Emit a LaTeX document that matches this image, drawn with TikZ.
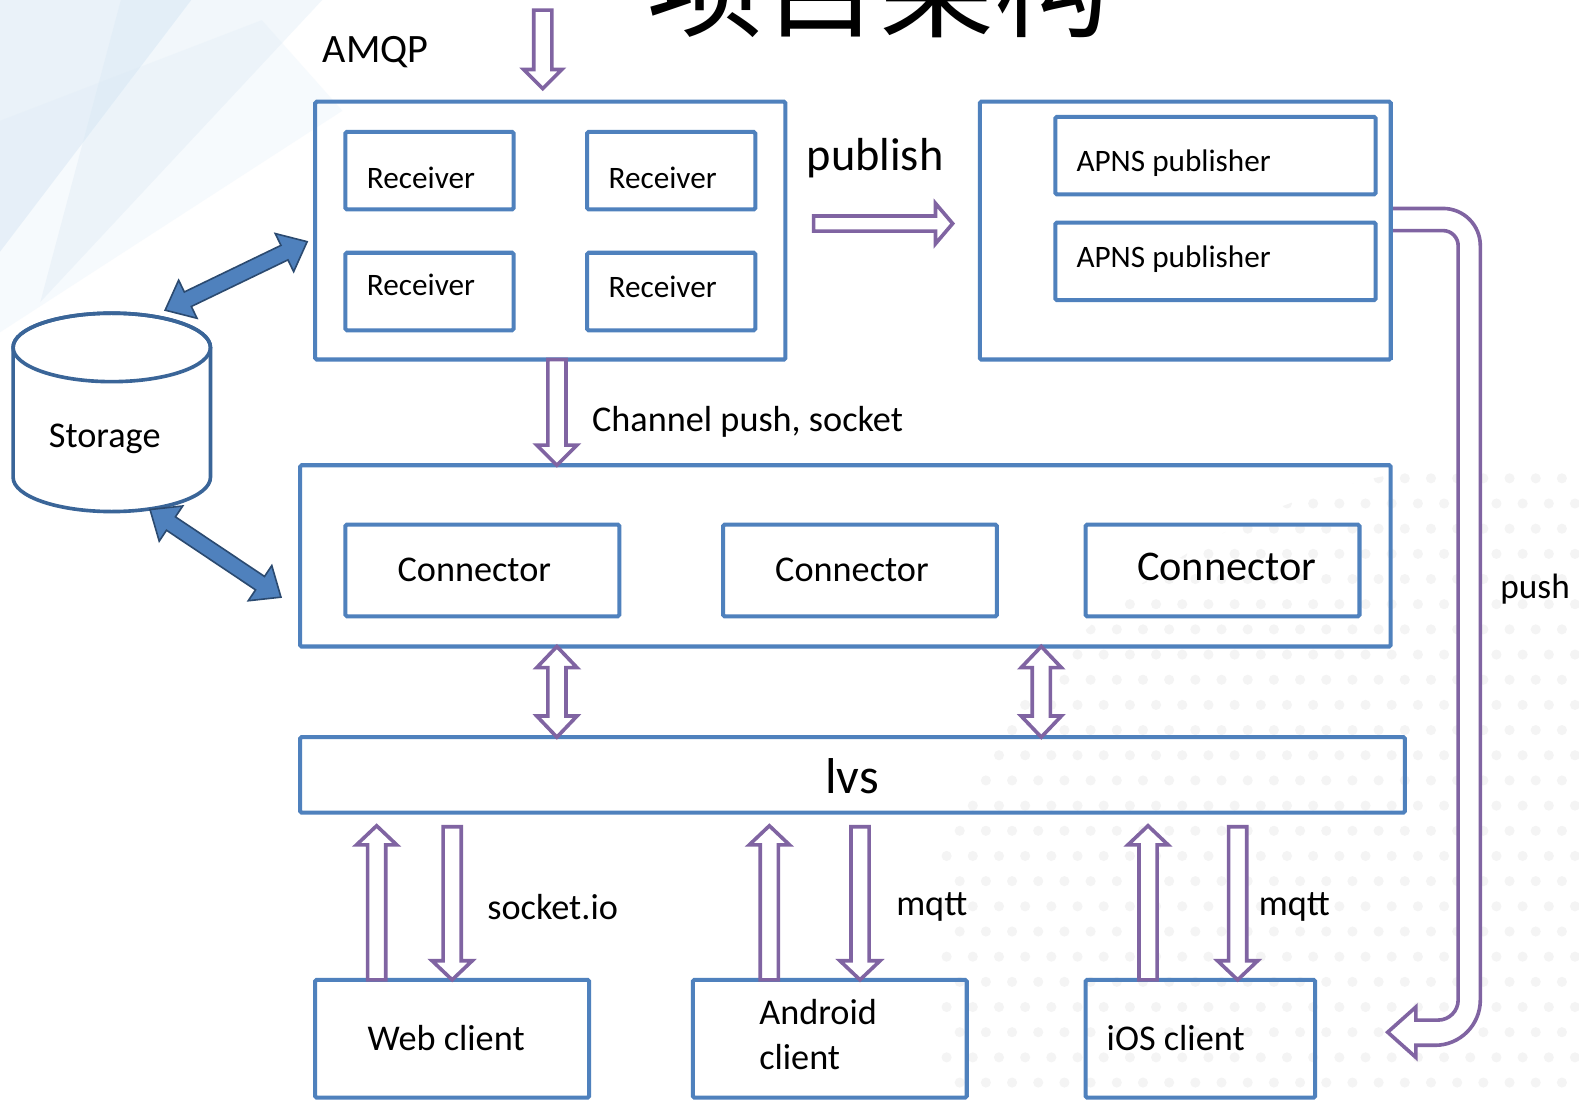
\documentclass[tikz,border=0pt]{standalone}
\usepackage{fontspec}
\setmainfont{Carlito}
\newfontfamily\cjk{Noto Sans CJK SC}
\usetikzlibrary{calc}
\definecolor{bx}{HTML}{4F81BD}
\definecolor{pp}{HTML}{8064A2}
\definecolor{dk}{HTML}{3A6598}
\definecolor{ol}{HTML}{2B4A70}
\definecolor{bgblue}{HTML}{D6E7F5}
\definecolor{dotc}{HTML}{F4F4F4}

% single hollow arrow: #2 tail, #3 tip, #4 half shaft, #5 half head, #6 head length
\newcommand\arrowone[6][]{%
 \draw[#1] let \p1=(#2), \p2=(#3), \n1={veclen((\x2)-(\x1),(\y2)-(\y1))},
   \n2={((\x2)-(\x1))/(\n1)}, \n3={((\y2)-(\y1))/(\n1)} in
 ({\x1-#4*(\n3)},{\y1+#4*(\n2)}) -- ({\x2-#6*(\n2)-#4*(\n3)},{\y2-#6*(\n3)+#4*(\n2)})
 -- ({\x2-#6*(\n2)-#5*(\n3)},{\y2-#6*(\n3)+#5*(\n2)}) -- (\x2,\y2)
 -- ({\x2-#6*(\n2)+#5*(\n3)},{\y2-#6*(\n3)-#5*(\n2)}) -- ({\x2-#6*(\n2)+#4*(\n3)},{\y2-#6*(\n3)-#4*(\n2)})
 -- ({\x1+#4*(\n3)},{\y1-#4*(\n2)}) -- cycle;}
% double-headed arrow between #2 and #3
\newcommand\arrowtwo[6][]{%
 \draw[#1] let \p1=(#2), \p2=(#3), \n1={veclen((\x2)-(\x1),(\y2)-(\y1))},
   \n2={((\x2)-(\x1))/(\n1)}, \n3={((\y2)-(\y1))/(\n1)} in
 (\x1,\y1) -- ({\x1+#6*(\n2)-#5*(\n3)},{\y1+#6*(\n3)+#5*(\n2)})
 -- ({\x1+#6*(\n2)-#4*(\n3)},{\y1+#6*(\n3)+#4*(\n2)}) -- ({\x2-#6*(\n2)-#4*(\n3)},{\y2-#6*(\n3)+#4*(\n2)})
 -- ({\x2-#6*(\n2)-#5*(\n3)},{\y2-#6*(\n3)+#5*(\n2)}) -- (\x2,\y2)
 -- ({\x2-#6*(\n2)+#5*(\n3)},{\y2-#6*(\n3)-#5*(\n2)}) -- ({\x2-#6*(\n2)+#4*(\n3)},{\y2-#6*(\n3)-#4*(\n2)})
 -- ({\x1+#6*(\n2)+#4*(\n3)},{\y1+#6*(\n3)-#4*(\n2)}) -- ({\x1+#6*(\n2)+#5*(\n3)},{\y1+#6*(\n3)-#5*(\n2)}) -- cycle;}

\begin{document}
\begin{tikzpicture}[x=1pt,y=-1pt,
  box/.style={draw=bx, line width=4pt, rounded corners=1.5pt, inner sep=0pt, outer sep=0pt, anchor=north west},
  txt/.style={inner sep=0pt, outer sep=0pt, text=black},
  hollow/.style={draw=pp, line width=3.6pt, fill=white, line join=miter},
  blockarrow/.style={draw=ol, line width=1.6pt, fill=bx, line join=miter},
  cyl/.style={draw=dk, line width=3.6pt},
  f31/.style={font=\fontsize{31}{37}\selectfont},
  f36/.style={font=\fontsize{36}{45}\selectfont},
]
\useasboundingbox (0,0) rectangle (1568,1094);
\clip (0,0) rectangle (1568,1094);
\fill[white] (0,0) rectangle (1568,1094);

% background decoration
\fill[bgblue, opacity=0.5] (0,0) -- (190,0) -- (0,250) -- cycle;
\fill[bgblue, opacity=0.3] (120,0) -- (320,0) -- (40,300) -- cycle;
\fill[bgblue, opacity=0.2] (0,120) -- (260,20) -- (340,110) -- (0,330) -- cycle;
\begin{scope}
  \clip (1500,1080) circle [radius=620pt];
  \foreach \i in {0,...,24} {
    \foreach \j in {0,...,26} {
      \fill[dotc] ({940+\i*26+mod(\j,2)*13},{450+\j*25}) circle [radius=5pt];
    }
  }
\end{scope}

% title (cut off at the top, as in the reference)
\node[txt, anchor=base west, font=\cjk\fontsize{115}{115}\selectfont] (title) at (643,28) {项目架构};

% receiver group
\node[txt, font=\fontsize{40}{48}\selectfont] (amqp) at (373,52) {AMQP};
\node[box, minimum width=467pt, minimum height=256pt] (recv) at (313,101) {};
\node[box, minimum width=167pt, minimum height=77pt] (r1) at (343,131) {};
\node[box, minimum width=167pt, minimum height=77pt] (r2) at (583,131) {};
\node[box, minimum width=167pt, minimum height=77pt] (r3) at (343,251) {};
\node[box, minimum width=167pt, minimum height=77pt] (r4) at (583,251) {};
\node[txt, f31] (r1t) at (418,177) {Receiver};
\node[txt, f31] (r2t) at (658,177) {Receiver};
\node[txt, f31] (r3t) at (418,283) {Receiver};
\node[txt, f31] (r4t) at (658,285) {Receiver};

% APNS group
\node[txt, font=\fontsize{46}{55}\selectfont] (publish) at (869,157) {publish};
\node[box, minimum width=408pt, minimum height=256pt] (apns) at (973,101) {};
\node[box, minimum width=318pt, minimum height=77pt] (a1) at (1048,116) {};
\node[box, minimum width=318pt, minimum height=77pt] (a2) at (1048,221) {};
\node[txt, f31, anchor=west] (a1t) at (1069,162) {APNS publisher};
\node[txt, f31, anchor=west] (a2t) at (1069,257) {APNS publisher};

% connector group
\node[txt, f36, anchor=west] (chan) at (588,419) {Channel push, socket};
\node[box, minimum width=1083pt, minimum height=180pt] (conn) at (298,462) {};
\node[box, minimum width=272pt, minimum height=91pt] (c1) at (343,521) {};
\node[box, minimum width=272pt, minimum height=91pt] (c2) at (718,521) {};
\node[box, minimum width=272pt, minimum height=91pt] (c3) at (1078,521) {};
\node[txt, f36] (c1t) at (471,566) {Connector};
\node[txt, f36] (c2t) at (846,566) {Connector};
\node[txt, font=\fontsize{42}{50}\selectfont] (c3t) at (1218,563) {Connector};

% lvs
\node[box, minimum width=1097pt, minimum height=75pt] (lvs) at (298,732) {};
\node[txt, font=\fontsize{50}{60}\selectfont] (lvst) at (846,771) {lvs};

% clients
\node[box, minimum width=272pt, minimum height=117pt] (web) at (313,973) {};
\node[box, minimum width=272pt, minimum height=117pt] (android) at (688,973) {};
\node[box, minimum width=228pt, minimum height=117pt] (ios) at (1078,973) {};
\node[txt, f36] (webt) at (443,1031) {Web client};
\node[txt, f36, anchor=west, align=left] (andt) at (754,1027) {Android\\client};
\node[txt, f36, anchor=west] (iost) at (1099,1031) {iOS client};
\node[txt, f36, anchor=west] (sio) at (484,901) {socket.io};
\node[txt, f36, anchor=west] (mq1) at (890,901) {mqtt};
\node[txt, f36, anchor=west] (mq2) at (1250,901) {mqtt};
\node[txt, font=\fontsize{35}{42}\selectfont, anchor=west] (pusht) at (1490,585) {push};

% storage cylinder
\draw[cyl, fill=white] (13,345) -- (13,474) arc[start angle=180, end angle=360, x radius=98pt, y radius=34pt]
  -- (209,345) arc[start angle=0, end angle=180, x radius=98pt, y radius=34pt] -- cycle;
\draw[cyl] (111,345) ellipse [x radius=98pt, y radius=34pt];
\node[txt, f36] (storage) at (104,436) {Storage};

% connector end points
\coordinate (amqpin) at (539,10);
\coordinate (x553) at (553,0);
\coordinate (x1034) at (1034,0);
\coordinate (pubA) at (808,222);
\coordinate (pubB) at (946,222);
\coordinate (stTop) at (164,308);
\coordinate (recvL) at (305,240);
\coordinate (stBot) at (149,506);
\coordinate (connL) at (279,593);

% hollow arrows
\arrowone[hollow]{amqpin}{539,88}{9}{19}{19}
\arrowone[hollow]{recv.south -| x553}{conn.north -| x553}{9}{20}{20}
\arrowone[hollow]{pubA}{pubB}{7.5}{20}{17}
\arrowtwo[hollow]{conn.south -| x553}{lvs.north -| x553}{9}{20}{21}
\arrowtwo[hollow]{conn.south -| x1034}{lvs.north -| x1034}{9}{20}{21}

% client arrows
\coordinate (u1) at (374,820); \coordinate (d1) at (449,821);
\coordinate (u2) at (764,820); \coordinate (d2) at (854,821);
\coordinate (u3) at (1140,820); \coordinate (d3) at (1229,821);
\arrowone[hollow]{web.north -| u1}{u1}{9}{20}{19}
\arrowone[hollow]{d1}{web.north -| d1}{9}{20}{19}
\arrowone[hollow]{android.north -| u2}{u2}{9}{20}{19}
\arrowone[hollow]{d2}{android.north -| d2}{9}{20}{19}
\arrowone[hollow]{ios.north -| u3}{u3}{9}{20}{19}
\arrowone[hollow]{d3}{ios.north -| d3}{9}{20}{19}

% storage block arrows
\arrowtwo[blockarrow]{stTop}{recvL}{8}{21}{25}
\arrowtwo[blockarrow]{stBot}{connL}{8}{21}{25}

% push bent arrow from APNS group to iOS client
\draw[hollow] (apns.east |- 0,207) -- (1433,207) arc[start angle=90, end angle=0, radius=37pt]
  -- (1470,993) arc[start angle=0, end angle=-90, radius=45pt]
  -- (1406,1038) -- (1406,1050) -- (1378,1025) -- (1406,1000) -- (1406,1013)
  -- (1428,1013) arc[start angle=-90, end angle=0, radius=20pt]
  -- (1448,244) arc[start angle=0, end angle=90, radius=15pt]
  -- (apns.east |- 0,229);
\draw[bx, line width=4pt] (apns.north east) -- (apns.south east);
\end{tikzpicture}
\end{document}
